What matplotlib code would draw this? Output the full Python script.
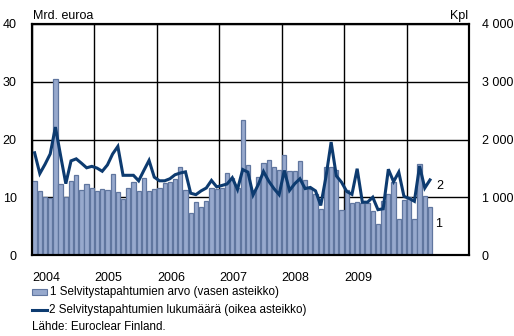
import matplotlib
matplotlib.use("Agg")
import matplotlib.pyplot as plt
import numpy as np
from matplotlib.ticker import FuncFormatter

plt.rcParams['font.family'] = ['Liberation Sans', 'DejaVu Sans']

# Monthly data, January 2004 - May 2010
years = ['2004', '2005', '2006', '2007', '2008', '2009']

value_bn_eur = [
    12.8, 11.1, 10.0, 9.8, 30.5, 12.3, 10.0, 12.9, 13.9, 11.3, 12.3, 11.6,
    11.0, 11.5, 11.2, 14.0, 10.9, 9.7, 11.6, 12.7, 11.1, 13.3, 11.0, 11.4,
    11.6, 12.4, 12.6, 13.2, 15.3, 11.2, 7.2, 9.2, 8.3, 9.3, 11.6, 11.5,
    11.6, 14.2, 13.4, 11.6, 23.3, 15.6, 10.9, 13.5, 15.9, 16.5, 15.2, 14.8,
    17.4, 14.6, 14.5, 16.3, 13.0, 11.5, 10.5, 8.0, 15.3, 15.3, 14.8, 7.8,
    11.2, 9.0, 9.2, 9.0, 9.0, 7.7, 5.4, 9.4, 10.5, 12.6, 6.3, 9.5,
    10.0, 6.2, 15.8, 10.2, 8.3,
]

count_pcs = [
    1770, 1410, 1570, 1750, 2215, 1720, 1235, 1630, 1665, 1590, 1510, 1535,
    1505, 1450, 1560, 1750, 1880, 1380, 1380, 1380, 1285, 1464, 1638, 1348,
    1285, 1285, 1320, 1390, 1420, 1440, 1070, 1045, 1110, 1160, 1291, 1180,
    1204, 1230, 1338, 1135, 1480, 1435, 1040, 1220, 1445, 1280, 1150, 1045,
    1464, 1118, 1234, 1320, 1150, 1170, 1110, 858, 1350, 1955, 1370, 1260,
    1100, 1050, 1494, 915, 915, 1000, 785, 800, 1485, 1270, 1435, 1015,
    980, 930, 1540, 1160, 1300,
]

legend_bar = '1 Selvitystapahtumien arvo (vasen asteikko)'
legend_line = '2 Selvitystapahtumien lukumäärä (oikea asteikko)'
source = 'Lähde: Euroclear Finland.'

BAR_FACE = '#97a9cd'
BAR_EDGE = '#60769f'
LINE_COLOR = '#0d3b70'

W, H = 514, 336
fig = plt.figure(figsize=(W / 100, H / 100), dpi=100)
ax = fig.add_axes([32 / W, 1 - 255 / H, (469 - 32) / W, (255 - 24) / H])

x = np.arange(len(value_bn_eur)) + 0.5
ax.bar(x, value_bn_eur, width=0.82, color=BAR_FACE, edgecolor=BAR_EDGE,
       linewidth=0.9, zorder=2)

ax.set_xlim(0, 84)
ax.set_ylim(0, 40)
ax.set_yticks([0, 10, 20, 30, 40])
ax.set_xticks(np.arange(0, 84, 12))
ax.set_xticklabels(years + [''])
for lbl in ax.get_xticklabels():
    lbl.set_horizontalalignment('left')
ax.tick_params(axis='x', length=0, pad=12, labelsize=9)
ax.tick_params(axis='y', length=0, pad=11, labelsize=9)
ax.set_axisbelow(True)
ax.grid(True, color='black', linewidth=1.0)
for s in ax.spines.values():
    s.set_linewidth(1.5)
    s.set_color('black')

ax2 = ax.twinx()
ax2.plot(x, count_pcs, color=LINE_COLOR, linewidth=2.2, solid_joinstyle='miter',
         zorder=3)
ax2.set_ylim(0, 4000)
ax2.set_yticks([0, 1000, 2000, 3000, 4000])
ax2.yaxis.set_major_formatter(FuncFormatter(
    lambda v, p: f'{int(v):,}'.replace(',', ' ')))
ax2.tick_params(axis='y', length=0, pad=9, labelsize=9)
for s in ax2.spines.values():
    s.set_linewidth(1.5)

# Series markers at the end of the data
ax2.text(x[-1] + 1.2, count_pcs[-1] - 100, '2', fontsize=9, va='center', ha='left')
ax.text(x[-1] + 0.9, value_bn_eur[-1] - 3.0, '1', fontsize=9, va='center', ha='left')

fig.text(33 / W, 1 - 16 / H, 'Mrd. euroa', fontsize=9, va='center', ha='left')
fig.text(468 / W, 1 - 16 / H, 'Kpl', fontsize=9, va='center', ha='right')

# Legend and source
fig.patches.append(matplotlib.patches.Rectangle(
    (32 / W, 1 - 295 / H), 15 / W, 6 / H, transform=fig.transFigure,
    facecolor=BAR_FACE, edgecolor=BAR_EDGE, linewidth=0.8))
fig.text(50 / W, 1 - 292 / H, legend_bar, fontsize=8.4, va='center', ha='left')
fig.lines.append(matplotlib.lines.Line2D(
    [32 / W, 47 / W], [1 - 309.5 / H, 1 - 309.5 / H], transform=fig.transFigure,
    color=LINE_COLOR, linewidth=2.2))
fig.text(49 / W, 1 - 310 / H, legend_line, fontsize=8.4, va='center', ha='left')
fig.text(32 / W, 1 - 327.5 / H, source, fontsize=8.4, va='center', ha='left')

fig.savefig('out.png', dpi=100)
